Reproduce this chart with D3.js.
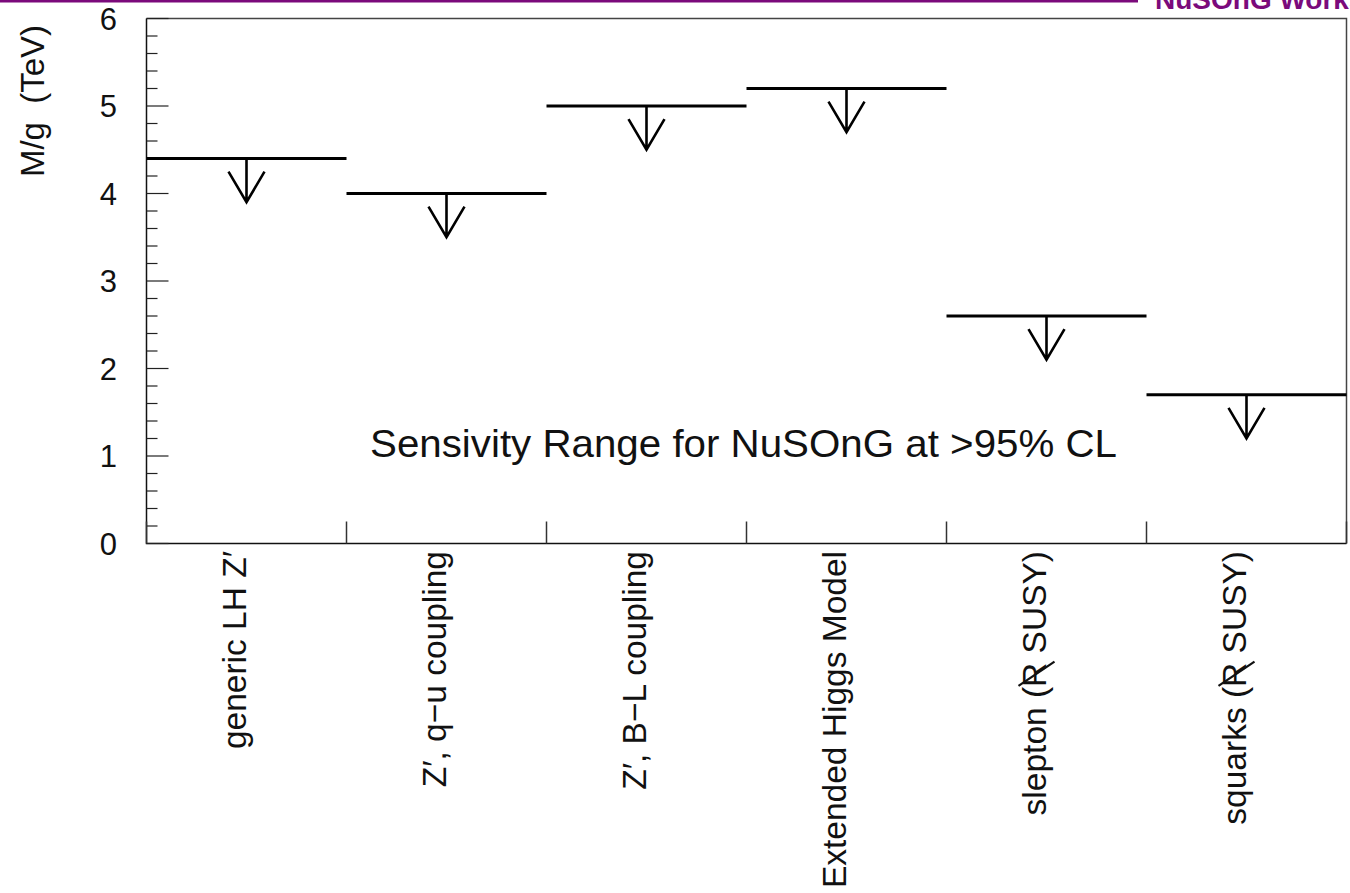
<!DOCTYPE html>
<html>
<head>
<meta charset="utf-8">
<script src="https://cdn.jsdelivr.net/npm/d3@7/dist/d3.min.js"></script>
<style>
  html, body { margin: 0; padding: 0; background: #fff; }
  svg { display: block; }
</style>
</head>
<body>
<div id="chart"></div>
<script>
const categories = [
  "generic LH Z\u2032",
  "Z\u2032, q\u2212u coupling",
  "Z\u2032, B\u2212L coupling",
  "Extended Higgs Model",
  "slepton (R SUSY)",
  "squarks (R SUSY)"
];
const slashedR = [false, false, false, false, true, true];
const limits = [4.4, 4.0, 5.0, 5.2, 2.6, 1.7];
const yTicks = [0, 1, 2, 3, 4, 5, 6];

const width = 1350;
const height = 893;
const font = "'Liberation Sans', Arial, Helvetica, sans-serif";

const svg = d3.select("#chart").append("svg")
  .attr("width", width).attr("height", height);

const x = d3.scaleBand().domain(categories).range([146.5, 1346.5]).padding(0);
const y = d3.scaleLinear().domain([0, 6]).range([543.5, 18.5]);

// header strip
svg.append("rect").attr("x", 0).attr("y", 0).attr("width", 1138).attr("height", 2.5).attr("fill", "#7b0a7b");
svg.append("text")
  .attr("x", 1155).attr("y", 9)
  .style("font-family", font).style("font-size", "28px").style("font-weight", "bold")
  .style("fill", "#7b0a7b").text("NuSOnG Workshop");

// frame
svg.append("path")
  .attr("d", `M${x.range()[0]},${y(6)}H${x.range()[1]}V${y(0)}`)
  .attr("fill", "none").attr("stroke", "#444").attr("stroke-width", 1.5);
svg.append("path")
  .attr("d", `M${x.range()[0]},${y(6)}V${y(0)}H${x.range()[1]}`)
  .attr("fill", "none").attr("stroke", "#111").attr("stroke-width", 1.5);

// y ticks
const minor = d3.range(0, 6.0001, 0.2);
svg.append("g").selectAll("line").data(minor).join("line")
  .attr("x1", x.range()[0])
  .attr("x2", d => x.range()[0] + (Math.abs(d - Math.round(d)) < 1e-6 ? 22 : 11))
  .attr("y1", d => y(d)).attr("y2", d => y(d))
  .attr("stroke", "#222").attr("stroke-width", 1.2);

svg.append("g").selectAll("text").data(yTicks).join("text")
  .attr("x", 117).attr("y", d => y(d) + 11)
  .attr("text-anchor", "end")
  .style("font-family", font).style("font-size", "31px").style("fill", "#111")
  .text(d => d);

// y title
svg.append("text")
  .attr("transform", `translate(44,101) rotate(-90)`)
  .attr("text-anchor", "middle")
  .style("font-family", font).style("font-size", "33px").style("fill", "#111")
  .text("M/g\u00a0\u00a0(TeV)");

// x ticks at band edges
const edges = categories.map(c => x(c)).concat([x.range()[1]]);
svg.append("g").selectAll("line").data(edges).join("line")
  .attr("x1", d => d).attr("x2", d => d)
  .attr("y1", y(0)).attr("y2", y(0) - 22)
  .attr("stroke", "#333").attr("stroke-width", 1.5);

// category labels
const labels = svg.append("g").selectAll("g").data(categories).join("g")
  .attr("transform", d => `translate(${x(d) + x.bandwidth() / 2 - 1},551) rotate(-90)`);
labels.append("text")
  .attr("text-anchor", "end")
  .style("font-family", font).style("font-size", "33.5px").style("fill", "#111")
  .text(d => d);

// stroke through the R of R-parity violating labels
labels.filter((d, i) => slashedR[i]).each(function (d) {
  const t = d3.select(this).select("text").node();
  const total = t.getComputedTextLength();
  const i = d.indexOf("R");
  const start = -total + t.getSubStringLength(0, i);
  const w = t.getSubStringLength(i, 1);
  d3.select(this).append("line")
    .attr("x1", start + 1).attr("y1", -27)
    .attr("x2", start + w + 1).attr("y2", 9)
    .attr("stroke", "#111").attr("stroke-width", 2.2);
});

// limits with arrows
const arrowLen = 0.5, headLen = 0.35, headHalf = 0.09;
const marks = svg.append("g").selectAll("g").data(categories.map((c, i) => ({ c, v: limits[i] }))).join("g");
marks.append("line")
  .attr("x1", d => x(d.c)).attr("x2", d => x(d.c) + x.bandwidth())
  .attr("y1", d => y(d.v)).attr("y2", d => y(d.v))
  .attr("stroke", "#000").attr("stroke-width", 3);
marks.append("path")
  .attr("d", d => {
    const cx = x(d.c) + x.bandwidth() / 2;
    const tip = y(d.v - arrowLen);
    const hw = x.bandwidth() * headHalf;
    const hy = y(d.v - arrowLen + headLen);
    return `M${cx},${y(d.v)}V${tip}M${cx - hw},${hy}L${cx},${tip}L${cx + hw},${hy}`;
  })
  .attr("fill", "none").attr("stroke", "#000").attr("stroke-width", 2.6);

// annotation
svg.append("text")
  .attr("x", 370).attr("y", 457)
  .attr("textLength", 747).attr("lengthAdjust", "spacingAndGlyphs")
  .style("font-family", font).style("font-size", "39px").style("fill", "#111")
  .text("Sensivity Range for NuSOnG at >95% CL");
</script>
</body>
</html>
